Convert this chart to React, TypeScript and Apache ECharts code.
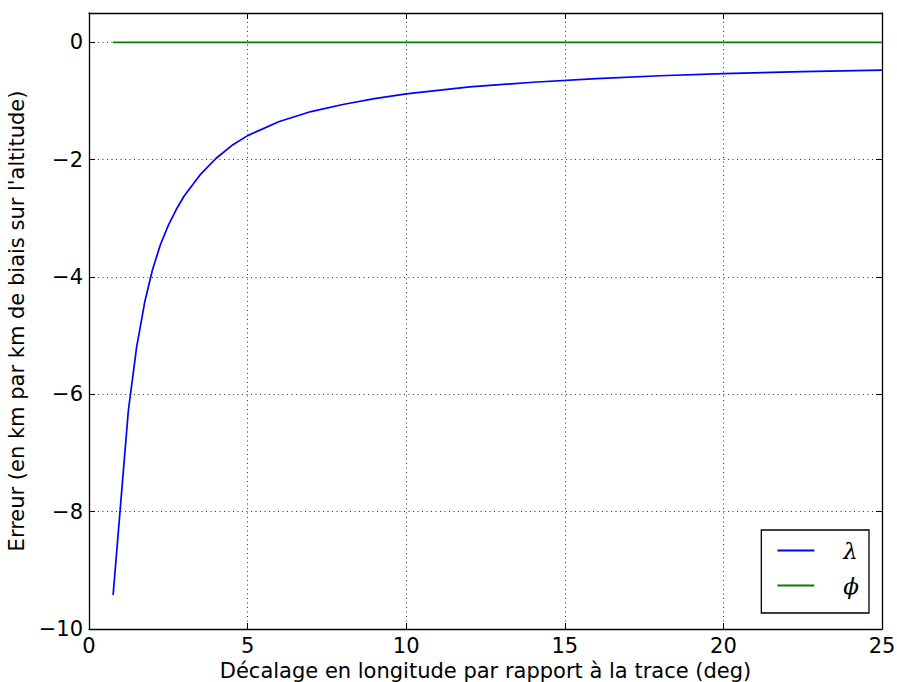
import React, { useEffect, useRef } from "react";
import * as echarts from "echarts";

const lambdaX = [0.76, 1.24, 1.5, 1.76, 2.0, 2.25, 2.5, 2.75, 3.0, 3.5, 4.0, 4.5, 5.0, 6.0, 7.0, 8.0, 9.0, 10, 12, 14, 16, 18, 20, 22.5, 25];
const lambdaY = [-9.42, -6.28, -5.2, -4.42, -3.88, -3.45, -3.12, -2.85, -2.62, -2.26, -1.98, -1.76, -1.59, -1.35, -1.18, -1.06, -0.96, -0.88, -0.76, -0.68, -0.62, -0.57, -0.535, -0.5, -0.475];
const phiX = [0.76, 25];
const phiY = [0, 0];
const xTicks = [0, 5, 10, 15, 20, 25];
const yTicks = [-10, -8, -6, -4, -2, 0];

const FONT = "DejaVu Sans";
const minus = (v: number) => (v < 0 ? "\u2212" + Math.abs(v) : String(v));

export default function App() {
  const ref = useRef<HTMLDivElement>(null);
  useEffect(() => {
    document.body.style.margin = "0";
    document.body.style.overflow = "hidden";
    if (!ref.current) return;
    const chart = echarts.init(ref.current, undefined, { renderer: "svg" });
    const grid = { left: 89, top: 13, right: 15, bottom: 53, containLabel: false, outerBoundsMode: "none" };
    const dotted = { color: "#000", width: 1, type: [1, 3.5] as any, opacity: 0.8 };
    const tick = { show: true, inside: true, length: 6, lineStyle: { color: "#000", width: 1 } };
    const frame = { show: true, onZero: false, lineStyle: { color: "#000", width: 1.3 } };
    chart.setOption({
      animation: false,
      grid,
      xAxis: [
        {
          type: "value",
          min: 0,
          max: 25,
          interval: 5,
          position: "bottom",
          axisLine: frame,
          axisTick: tick,
          axisLabel: {
            color: "#000",
            fontFamily: FONT,
            fontSize: 21,
            margin: 6,
            formatter: (v: number) => (xTicks.includes(v) ? minus(v) : ""),
          },
          splitLine: { show: true, lineStyle: dotted },
          name: "Décalage en longitude par rapport à la trace (deg)",
          nameLocation: "middle",
          nameGap: 28,
          nameTextStyle: { color: "#000", fontFamily: FONT, fontSize: 21 },
        },
        {
          type: "value",
          min: 0,
          max: 25,
          interval: 5,
          position: "top",
          axisLine: frame,
          axisTick: tick,
          axisLabel: { show: false },
          splitLine: { show: false },
        },
      ],
      yAxis: [
        {
          type: "value",
          min: -10,
          max: 0.5,
          interval: 2,
          position: "left",
          axisLine: frame,
          axisTick: tick,
          axisLabel: {
            color: "#000",
            fontFamily: FONT,
            fontSize: 21,
            margin: 6,
            formatter: (v: number) => (yTicks.includes(v) ? minus(v) : ""),
          },
          splitLine: { show: true, lineStyle: dotted },
          name: "Erreur (en km par km de biais sur l'altitude)",
          nameLocation: "middle",
          nameGap: 56,
          nameTextStyle: { color: "#000", fontFamily: FONT, fontSize: 21 },
        },
        {
          type: "value",
          min: -10,
          max: 0.5,
          interval: 2,
          position: "right",
          axisLine: frame,
          axisTick: tick,
          axisLabel: { show: false },
          splitLine: { show: false },
        },
      ],
      legend: {
        orient: "vertical",
        right: 28,
        bottom: 69,
        backgroundColor: "#fff",
        borderColor: "#000",
        borderWidth: 1.3,
        borderRadius: 0,
        padding: [9, 10, 16, 16],
        icon: "rect",
        itemWidth: 37,
        itemHeight: 2,
        itemGap: 12,
        textStyle: {
          fontFamily: "DejaVu Serif",
          fontStyle: "italic",
          fontSize: 23,
          color: "#000",
          padding: [0, 0, 0, 24],
        },
        data: ["λ", "ϕ"],
      },
      series: [
        {
          name: "λ",
          type: "line",
          symbol: "none",
          data: lambdaX.map((x, i) => [x, lambdaY[i]]),
          lineStyle: { color: "#0000ff", width: 1.7 },
          itemStyle: { color: "#0000ff" },
          z: 3,
        },
        {
          name: "ϕ",
          type: "line",
          symbol: "none",
          data: phiX.map((x, i) => [x, phiY[i]]),
          lineStyle: { color: "#008000", width: 1.7 },
          itemStyle: { color: "#008000" },
          z: 4,
        },
      ],
    });
    return () => chart.dispose();
  }, []);
  return <div ref={ref} style={{ width: 897, height: 682 }} />;
}
